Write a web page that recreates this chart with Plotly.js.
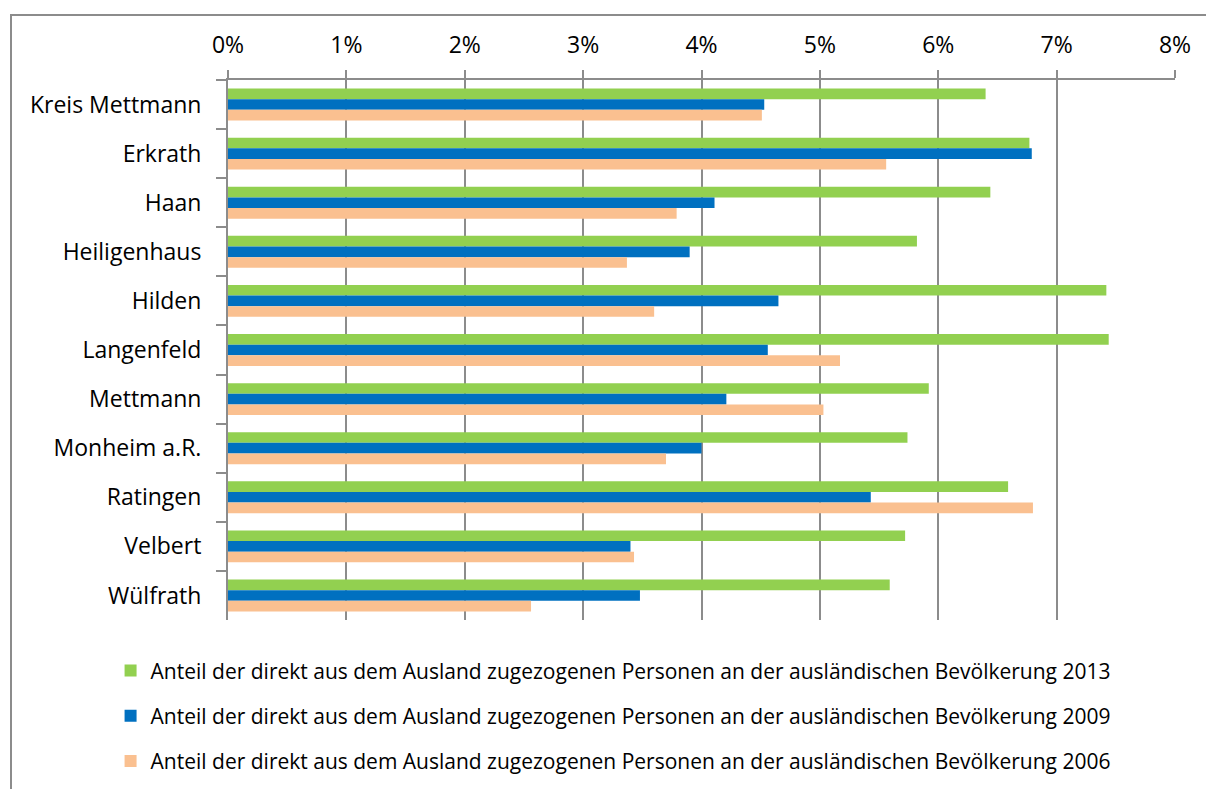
<!DOCTYPE html>
<html>
<head>
<meta charset="utf-8">
<script src="https://cdn.plot.ly/plotly-3.0.1.min.js"></script>
<style>
  html, body { margin: 0; padding: 0; background: #fff; }
  #frame { position: absolute; left: 10px; top: 14px; width: 1300px; height: 900px;
           border-left: 2px solid #8c8c8c; border-top: 2px solid #8c8c8c; pointer-events: none; z-index: 5; }
  #chart { position: absolute; left: 0; top: 0; width: 1206px; height: 789px; }
</style>
</head>
<body>
<div id="chart"></div>
<div id="frame"></div>
<script>
const categories = ["Kreis Mettmann", "Erkrath", "Haan", "Heiligenhaus", "Hilden", "Langenfeld",
                    "Mettmann", "Monheim a.R.", "Ratingen", "Velbert", "Wülfrath"];
const values2013 = [0.0640, 0.0677, 0.0644, 0.0582, 0.0742, 0.0744, 0.0592, 0.0574, 0.0659, 0.0572, 0.0559];
const values2009 = [0.0453, 0.0679, 0.0411, 0.0390, 0.0465, 0.0456, 0.0421, 0.0400, 0.0543, 0.0340, 0.0348];
const values2006 = [0.0451, 0.0556, 0.0379, 0.0337, 0.0360, 0.0517, 0.0503, 0.0370, 0.0680, 0.0343, 0.0256];
const seriesNames = [
  "Anteil der direkt aus dem Ausland zugezogenen Personen an der ausländischen Bevölkerung 2013",
  "Anteil der direkt aus dem Ausland zugezogenen Personen an der ausländischen Bevölkerung 2009",
  "Anteil der direkt aus dem Ausland zugezogenen Personen an der ausländischen Bevölkerung 2006"
];
const tickVals = [0, 0.01, 0.02, 0.03, 0.04, 0.05, 0.06, 0.07, 0.08];
const tickLabels = ["0%", "1%", "2%", "3%", "4%", "5%", "6%", "7%", "8%"];

const colors = ["#92D050", "#0070C0", "#FAC090"];
const allValues = [values2013, values2009, values2006];

const traces = allValues.map((vals, i) => ({
  type: "bar",
  orientation: "h",
  y: categories,
  x: vals,
  name: seriesNames[i],
  legendgroup: "g" + i,
  marker: { color: colors[i], line: { width: 0 } },
  hoverinfo: "x+y"
}));

const font = "'Open Sans', sans-serif";
const layout = {
  width: 1206, height: 789,
  margin: { l: 228, r: 31, t: 80, b: 169, autoexpand: false },
  paper_bgcolor: "rgba(0,0,0,0)",
  plot_bgcolor: "#ffffff",
  font: { family: font, color: "#000000", size: 23 },
  barmode: "group",
  bargap: 0.35,
  bargroupgap: 0,
  showlegend: true,
  legend: {
    x: -0.124, xanchor: "left", y: -0.056, yanchor: "top",
    orientation: "v", traceorder: "grouped", tracegroupgap: 15,
    font: { family: font, size: 21, color: "#000" },
    itemwidth: 30, bgcolor: "rgba(0,0,0,0)"
  },
  xaxis: {
    side: "top",
    range: [0, 0.08],
    tickvals: tickVals,
    ticktext: tickLabels,
    showgrid: true, gridcolor: "#8c8c8c", gridwidth: 2,
    showline: true, linecolor: "#8c8c8c", linewidth: 2,
    ticks: "outside", ticklen: 8, tickwidth: 2, tickcolor: "#8c8c8c",
    ticklabelstandoff: 8,
    tickfont: { size: 23 },
    zeroline: false, fixedrange: true
  },
  yaxis: {
    autorange: "reversed",
    type: "category",
    showline: true, linecolor: "#8c8c8c", linewidth: 2,
    ticks: "outside", ticklen: 10, tickwidth: 2, tickcolor: "#8c8c8c",
    tickson: "boundaries",
    ticklabelstandoff: 20,
    tickfont: { size: 23 },
    showgrid: false, zeroline: false, fixedrange: true
  }
};

Plotly.newPlot("chart", traces, layout, { displayModeBar: false, staticPlot: true });
</script>
</body>
</html>
